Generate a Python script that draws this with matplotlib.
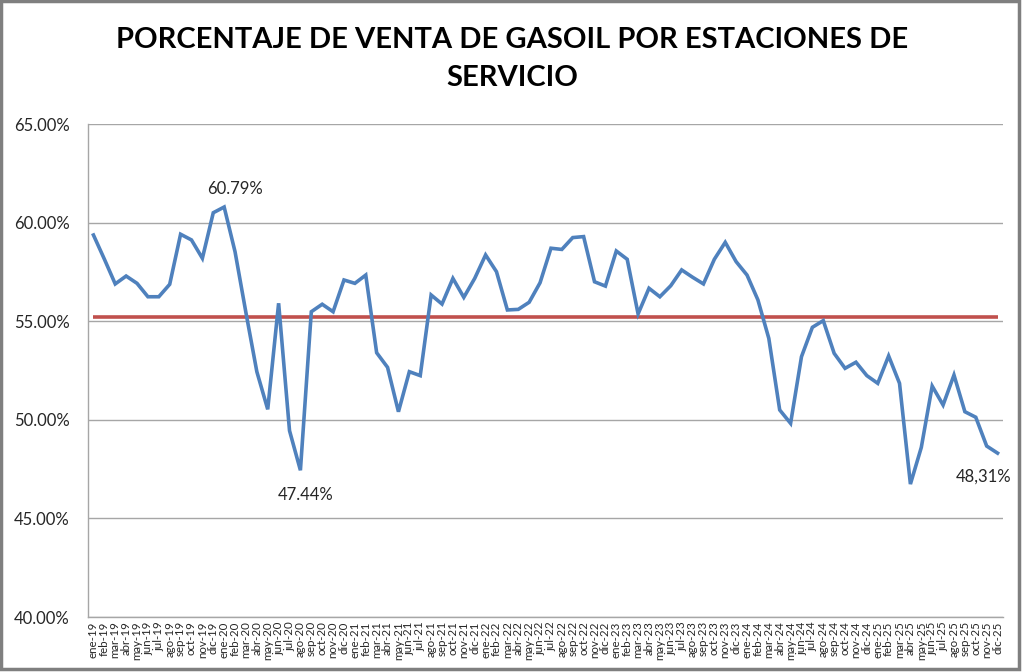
import matplotlib
matplotlib.use("Agg")
import matplotlib.pyplot as plt
from matplotlib.patches import Rectangle

months = ["ene", "feb", "mar", "abr", "may", "jun", "jul", "ago", "sep", "oct", "nov", "dic"]
years = ["19", "20", "21", "22", "23", "24", "25"]
categories = [f"{m}-{y}" for y in years for m in months]

values = [
    59.37, 58.15, 56.89, 57.29, 56.92, 56.24, 56.24, 56.87, 59.41, 59.12, 58.19, 60.50,
    60.79, 58.52, 55.43, 52.44, 50.53, 55.91, 49.45, 47.44, 55.48, 55.86, 55.48, 57.09,
    56.92, 57.34, 53.40, 52.66, 50.41, 52.44, 52.24, 56.33, 55.87, 57.17, 56.21, 57.17,
    58.36, 57.51, 55.57, 55.60, 55.96, 56.95, 58.70, 58.64, 59.24, 59.29, 57.00, 56.78,
    58.56, 58.14, 55.37, 56.67, 56.24, 56.80, 57.60, 57.23, 56.89, 58.14, 59.00, 58.02,
    57.34, 56.08, 54.13, 50.50, 49.82, 53.20, 54.69, 55.03, 53.37, 52.61, 52.92, 52.24,
    51.85, 53.24, 51.85, 46.74, 48.60, 51.71, 50.75, 52.27, 50.41, 50.13, 48.67, 48.31,
]
average = 55.22

y_ticks = [40, 45, 50, 55, 60, 65]
y_tick_labels = ["40.00%", "45.00%", "50.00%", "55.00%", "60.00%", "65.00%"]

annotations = [
    ("ene-20", 60.79, "60.79%"),
    ("ago-20", 47.44, "47.44%"),
    ("dic-25", 48.31, "48,31%"),
]

plt.rcParams['font.family'] = ['Lato', 'DejaVu Sans']

W, H = 1023, 672
fig = plt.figure(figsize=(W / 100, H / 100), dpi=100)
ax = fig.add_axes([88 / W, 1 - 617 / H, (1003 - 88) / W, (617 - 124) / H])

x = list(range(len(categories)))
ax.plot(x, [average] * len(x), color="#C0504D", lw=2.6, solid_capstyle="butt", zorder=3)
ax.plot(x, values, color="#4F81BD", lw=2.6, zorder=4, solid_joinstyle="miter")

ax.set_xlim(-0.5, len(x) - 0.5)
ax.set_ylim(40, 65)
ax.set_yticks(y_ticks)
ax.set_yticklabels(y_tick_labels, fontsize=12, color="#262626")
ax.set_xticks(x)
ax.set_xticklabels(categories, rotation=90, fontsize=8.3, color="#262626")
ax.tick_params(axis="y", length=0, pad=13)
ax.tick_params(axis="x", length=0, pad=3)
ax.grid(axis="y", color="#A6A6A6", lw=1)
ax.set_axisbelow(True)
for s in ["top", "right"]:
    ax.spines[s].set_visible(False)
for s in ["left", "bottom"]:
    ax.spines[s].set_color("#A6A6A6")
    ax.spines[s].set_linewidth(1)

offsets = {"60.79%": (8, 13), "47.44%": (4, -18), "48,31%": (-10, -17)}
for cat, val, txt in annotations:
    i = categories.index(cat)
    dx, dy = offsets[txt]
    ax.annotate(txt, (i, val), xytext=(dx, dy), textcoords="offset points",
                ha="center", va="center", fontsize=12, color="#262626")

fig.text(512 / W, 1 - 40 / H, "PORCENTAJE DE VENTA DE GASOIL POR ESTACIONES DE",
         ha="center", va="center", fontsize=21, fontweight="bold", color="black")
fig.text(512 / W, 1 - 78 / H, "SERVICIO",
         ha="center", va="center", fontsize=21, fontweight="bold", color="black")

fig.patches.append(Rectangle((1 / W, 3 / H), (1019 - 1) / W, (H - 4) / H,
                             transform=fig.transFigure, fill=False,
                             edgecolor="#7F7F7F", lw=2.5))

fig.savefig("out.png", dpi=100)
